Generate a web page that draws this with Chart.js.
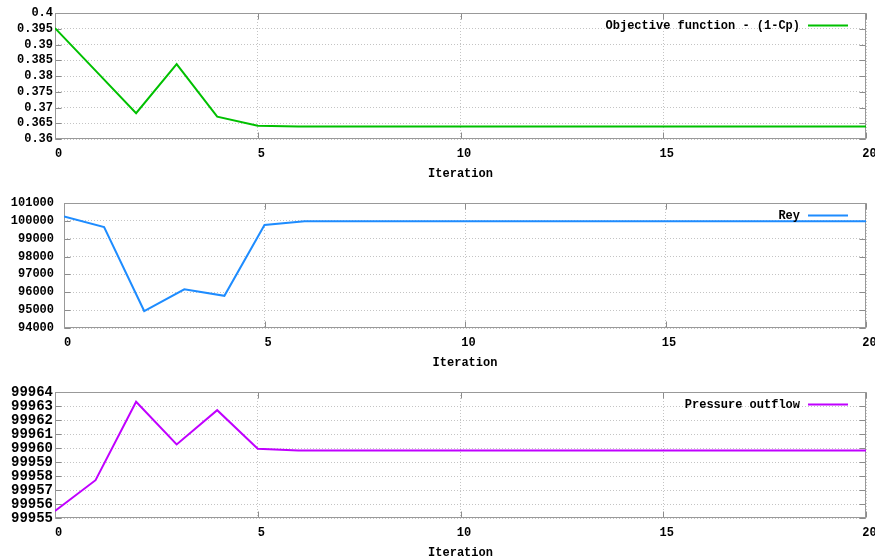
<!DOCTYPE html>
<html>
<head>
<meta charset="utf-8">
<script src="https://cdn.jsdelivr.net/npm/chart.js@4/dist/chart.umd.min.js"></script>
<style>
  html, body { margin: 0; padding: 0; background: #ffffff; overflow: hidden; }
  canvas { display: block; }
</style>
</head>
<body>
<canvas id="c1" width="875" height="190"></canvas>
<canvas id="c2" width="875" height="189"></canvas>
<canvas id="c3" width="875" height="181"></canvas>
<script>
// ---------------- data ----------------
const iterations = [0,1,2,3,4,5,6,7,8,9,10,11,12,13,14,15,16,17,18,19,20];
const objective = [0.3952,0.3817,0.3682,0.3838,0.3671,0.3642,0.3640,0.3640,0.3640,0.3640,0.3640,0.3640,0.3640,0.3640,0.3640,0.3640,0.3640,0.3640,0.3640,0.3640,0.3640];
const rey = [100250,99650,94950,96170,95800,99770,99980,99980,99980,99980,99980,99980,99980,99980,99980,99980,99980,99980,99980,99980,99980];
const pressure = [99955.5,99957.7,99963.3,99960.25,99962.7,99959.95,99959.83,99959.83,99959.83,99959.83,99959.83,99959.83,99959.83,99959.83,99959.83,99959.83,99959.83,99959.83,99959.83,99959.83,99959.83];

const xTicks = [0,5,10,15,20];
const yTicksObjective = [0.36,0.365,0.37,0.375,0.38,0.385,0.39,0.395,0.4];
const yTicksRey = [94000,95000,96000,97000,98000,99000,100000,101000];
const yTicksPressure = [99955,99956,99957,99958,99959,99960,99961,99962,99963,99964];

const labelObjective = 'Objective function - (1-Cp)';
const labelRey = 'Rey';
const labelPressure = 'Pressure outflow';
const xTitle = 'Iteration';

// ---------------- helpers ----------------
const MONO = '"Liberation Mono", "DejaVu Sans Mono", monospace';

const framePlugin = {
  id: 'frame',
  beforeDatasetsDraw(chart) {
    const {ctx, chartArea: a, scales} = chart;
    const L = Math.round(a.left) + 0.5, R = Math.round(a.right) - 0.5;
    const T = Math.round(a.top) + 0.5, B = Math.round(a.bottom) - 0.5;
    ctx.save();
    ctx.strokeStyle = '#8c8c8c';
    ctx.lineWidth = 1;
    ctx.setLineDash([]);
    ctx.beginPath();
    // inside tick marks
    scales.x.ticks.forEach(t => {
      const px = Math.round(scales.x.getPixelForValue(t.value)) + 0.5;
      ctx.moveTo(px, B); ctx.lineTo(px, B - 6);
      ctx.moveTo(px, T); ctx.lineTo(px, T + 6);
    });
    scales.y.ticks.forEach(t => {
      const py = Math.round(scales.y.getPixelForValue(t.value)) + 0.5;
      ctx.moveTo(L, py); ctx.lineTo(L + 6, py);
      ctx.moveTo(R, py); ctx.lineTo(R - 6, py);
    });
    ctx.stroke();
    ctx.strokeStyle = '#999999';
    ctx.strokeRect(L, T, R - L, B - T);
    ctx.restore();
  },
  afterDraw(chart) {
    const {ctx, chartArea: a} = chart;
    const ds = chart.data.datasets[0];
    const y = Math.round(a.top) + 12.5;
    ctx.save();
    ctx.font = 'bold 12px ' + MONO;
    ctx.fillStyle = '#000000';
    ctx.textAlign = 'right';
    ctx.textBaseline = 'middle';
    ctx.fillText(ds.label, a.right - 66, y);
    ctx.strokeStyle = ds.borderColor;
    ctx.lineWidth = 2;
    ctx.beginPath();
    ctx.moveTo(a.right - 58, y);
    ctx.lineTo(a.right - 18, y);
    ctx.stroke();
    ctx.restore();
  }
};

function makeChart(id, label, values, color, yTickValues, yWidth, yPad, yFontSize, padBottom) {
  return new Chart(document.getElementById(id), {
    type: 'line',
    data: {
      datasets: [{
        label: label,
        data: iterations.map((it, i) => ({x: it, y: values[i]})),
        borderColor: color,
        backgroundColor: color,
        borderWidth: 2,
        pointRadius: 0,
        tension: 0,
        fill: false
      }]
    },
    options: {
      responsive: false,
      animation: false,
      devicePixelRatio: 1,
      layout: { padding: { top: 13, left: 0, right: 9, bottom: padBottom } },
      plugins: { legend: { display: false }, tooltip: { enabled: false } },
      scales: {
        x: {
          type: 'linear',
          min: xTicks[0],
          max: xTicks[xTicks.length - 1],
          afterBuildTicks: axis => { axis.ticks = xTicks.map(v => ({value: v})); },
          afterFit: s => { s.height = 42; s.paddingLeft = 0; s.paddingRight = 0; },
          ticks: {
            padding: 8,
            labelOffset: 3.5,
            color: '#000000',
            maxRotation: 0,
            autoSkip: false,
            font: { family: MONO, size: 12, weight: 'bold' },
            callback: v => String(v)
          },
          grid: { color: '#c4c4c4', lineWidth: 1, drawTicks: false },
          border: { display: false, dash: [1, 2] },
          title: {
            display: true,
            text: xTitle,
            color: '#000000',
            padding: { top: 0, bottom: 0 },
            font: { family: MONO, size: 12, weight: 'bold' }
          }
        },
        y: {
          type: 'linear',
          min: yTickValues[0],
          max: yTickValues[yTickValues.length - 1],
          afterBuildTicks: axis => { axis.ticks = yTickValues.map(v => ({value: v})); },
          afterFit: s => { s.width = yWidth; s.paddingTop = 0; s.paddingBottom = 0; },
          ticks: {
            padding: yPad,
            color: '#000000',
            autoSkip: false,
            font: { family: MONO, size: yFontSize, weight: 'bold' },
            callback: v => String(v)
          },
          grid: { color: '#c4c4c4', lineWidth: 1, drawTicks: false },
          border: { display: false, dash: [1, 2] }
        }
      }
    },
    plugins: [framePlugin]
  });
}

makeChart('c1', labelObjective, objective, '#00c000', yTicksObjective, 55, 2, 12, 9);
makeChart('c2', labelRey, rey, '#1e8cff', yTicksRey, 64, 10, 12, 9);
makeChart('c3', labelPressure, pressure, '#c000ff', yTicksPressure, 55, 2, 14, 0);
</script>
</body>
</html>
